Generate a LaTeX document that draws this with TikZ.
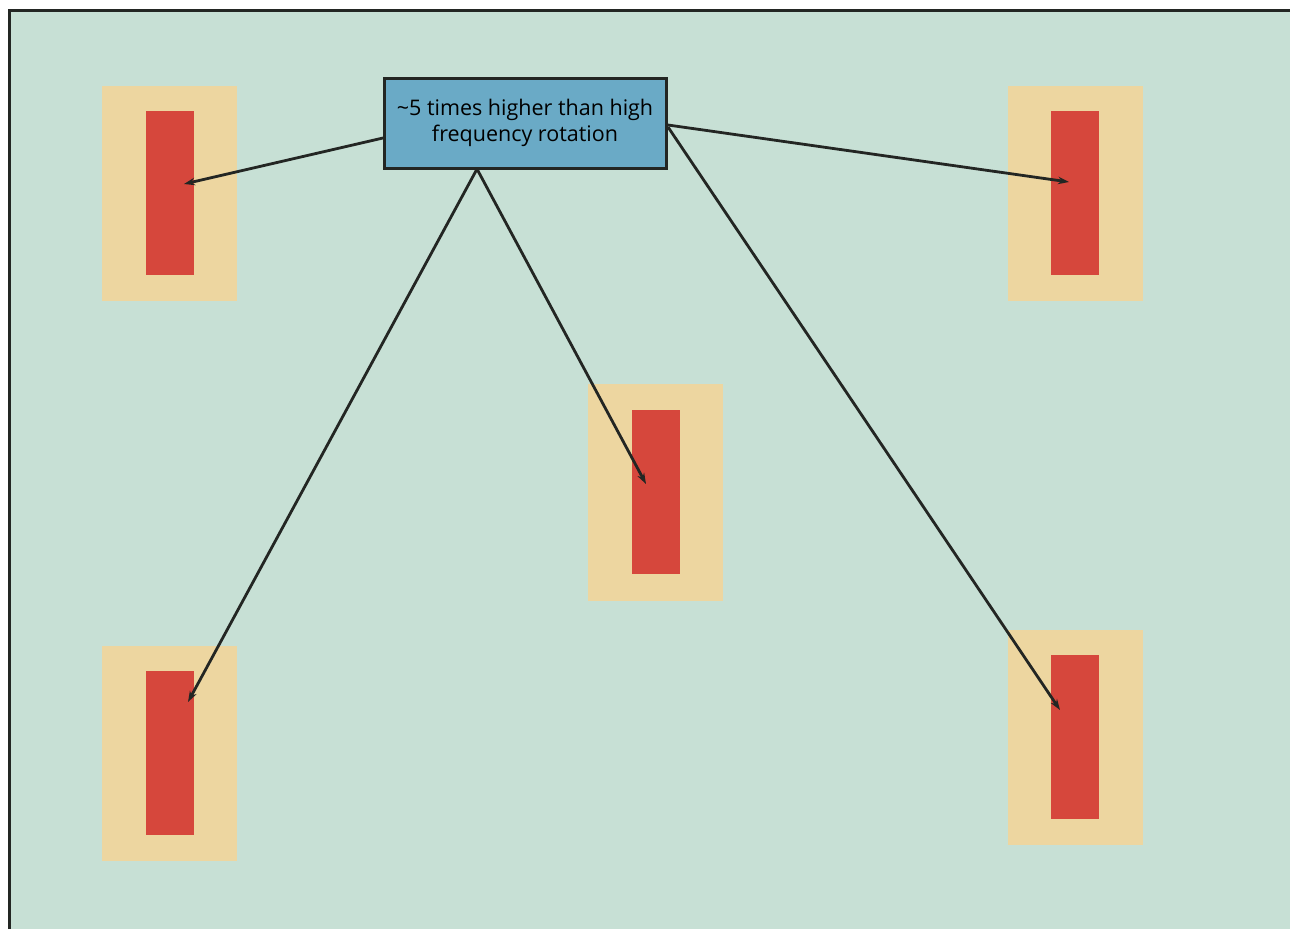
\documentclass[tikz,border=0pt]{standalone}
\usepackage{fontspec}
\setmainfont{Open Sans}
\usetikzlibrary{arrows.meta}
\definecolor{bgGreen}{HTML}{C7E0D5}
\definecolor{padTan}{HTML}{EDD6A0}
\definecolor{barRed}{HTML}{D6473C}
\definecolor{boxBlue}{HTML}{6AAAC6}
\definecolor{ink}{HTML}{232623}
\tikzset{
  pad/.style={fill=padTan, draw=none},
  bar/.style={fill=barRed, draw=none},
  labelbox/.style={draw=ink, line width=3pt, fill=boxBlue, inner sep=0pt,
    minimum width=282pt, minimum height=90pt, align=center,
    font=\fontsize{21.5}{25.5}\selectfont, text=black},
  pointer/.style={draw=ink, line width=2.8pt, -{Stealth[length=11pt,width=7.5pt]}}
}
\begin{document}
\begin{tikzpicture}[x=1pt,y=-1pt]
\useasboundingbox (0,0) rectangle (1290,929);
% panel background and its frame
\fill[bgGreen] (9,10) rectangle (1290,929);
\draw[ink, line width=3pt] (9,929) -- (9,10) -- (1290,10);
% pads with their bars
\fill[pad] (102,86) rectangle (237,301);
\fill[bar] (146,111) rectangle (194,275);
\fill[pad] (1008,86) rectangle (1143,301);
\fill[bar] (1051,111) rectangle (1099,275);
\fill[pad] (588,384) rectangle (723,601);
\fill[bar] (632,410) rectangle (680,574);
\fill[pad] (102,646) rectangle (237,861);
\fill[bar] (146,671) rectangle (194,835);
\fill[pad] (1008,630) rectangle (1143,845);
\fill[bar] (1051,655) rectangle (1099,819);
% label
\node[labelbox] (lbl) at (525,123) {\char"7E 5 times higher than high\\frequency rotation};
% start and end points of the pointers
\coordinate (sL) at (383,138);
\coordinate (sR) at (668,125);
\coordinate (sB) at (477,169);
\coordinate (sRB) at (668,127);
\coordinate (tTL) at (184,184);
\coordinate (tTR) at (1069,182);
\coordinate (tC) at (646,484);
\coordinate (tBL) at (188,702);
\coordinate (tBR) at (1060,710);
\draw[pointer] (sL) -- (tTL);
\draw[pointer] (sR) -- (tTR);
\draw[pointer] (sB) -- (tC);
\draw[pointer] (sB) -- (tBL);
\draw[pointer] (sRB) -- (tBR);
\end{tikzpicture}
\end{document}
